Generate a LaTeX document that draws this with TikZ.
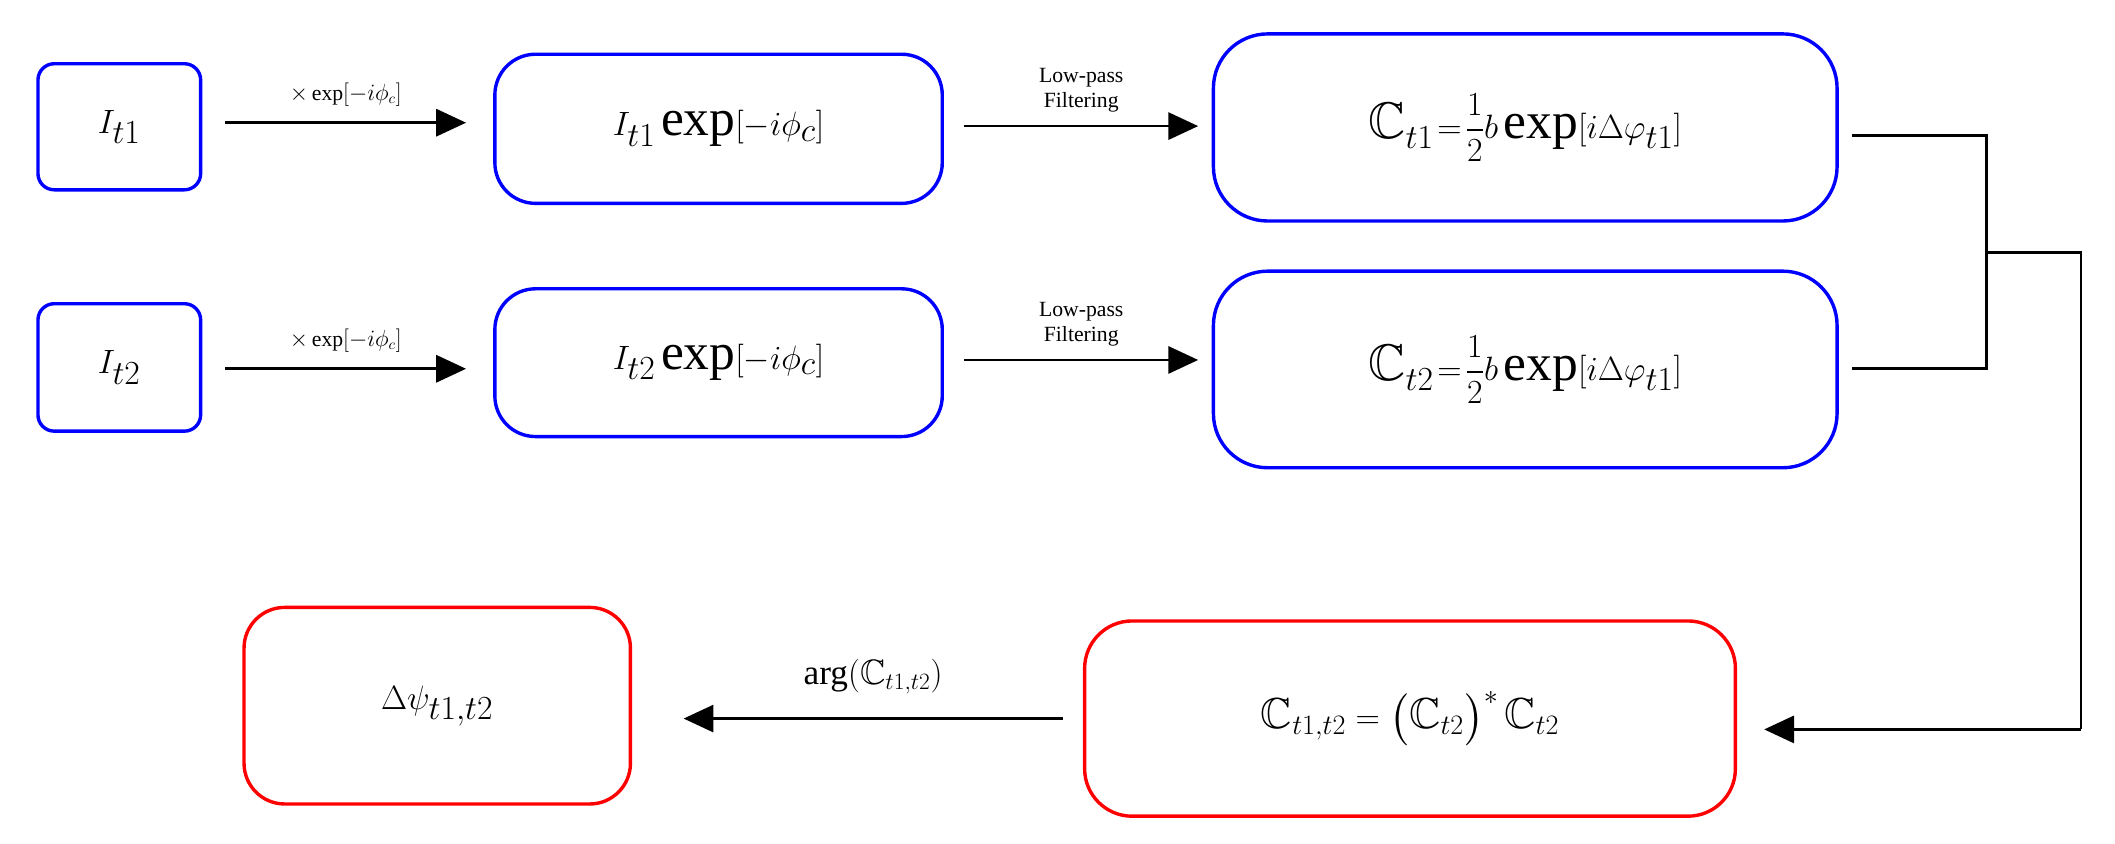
\documentclass[tikz,border=0pt]{standalone}
\usepackage{amsmath,amssymb}
\usepackage{fontspec}
\setmainfont{Liberation Serif}
\usetikzlibrary{arrows.meta}
\begin{document}
\begin{tikzpicture}[x=1pt,y=-1pt,
  bb/.style={draw=blue,line width=2.5pt,rounded corners=#1,inner sep=0pt},
  rb/.style={draw=red,line width=2.5pt,rounded corners=#1,inner sep=0pt},
  ar/.style={line width=2pt,-{Triangle[length=22pt,width=20pt]}},
  ln/.style={line width=2pt},
  sm/.style={font=\fontsize{16}{18}\selectfont,align=center}]
\useasboundingbox (0,0) rectangle (1560,622);
\node[bb=12pt,minimum width=120pt,minimum height=93pt] (a1) at (88,93.5) {\fontsize{44}{48}\selectfont$I_{t1}$};
\node[bb=12pt,minimum width=120pt,minimum height=94pt] (a2) at (88,271) {\fontsize{44}{48}\selectfont$I_{t2}$};
\node[bb=30pt,minimum width=330pt,minimum height=110pt] (b1) at (530,95) {\fontsize{38}{42}\selectfont$I_{t1}\exp\!\left[-i\phi_c\right]$};
\node[bb=30pt,minimum width=330pt,minimum height=109pt] (b2) at (530,267.5) {\fontsize{38}{42}\selectfont$I_{t2}\exp\!\left[-i\phi_c\right]$};
\node[bb=40pt,minimum width=460pt,minimum height=138pt] (c1) at (1125,94) {\fontsize{38}{42}\selectfont$\mathbb{C}_{t1}\!=\!\dfrac{1}{2}b\exp\!\left[i\Delta\varphi_{t1}\right]$};
\node[bb=40pt,minimum width=460pt,minimum height=145pt] (c2) at (1125,272.5) {\fontsize{38}{42}\selectfont$\mathbb{C}_{t2}\!=\!\dfrac{1}{2}b\exp\!\left[i\Delta\varphi_{t1}\right]$};
\node[rb=35pt,minimum width=480pt,minimum height=144pt] (d) at (1040,530) {\fontsize{32}{36}\selectfont$\mathbb{C}_{t1,t2}=\left(\mathbb{C}_{t2}\right)^{*}\mathbb{C}_{t2}$};
\node[rb=30pt,minimum width=285pt,minimum height=145pt] (e) at (322.5,520.5) {\fontsize{52}{56}\selectfont$\Delta\psi_{t1,t2}$};
\draw[ar] ([xshift=17pt,yshift=3pt]a1.east) coordinate (s1) -- ([xshift=-20pt]b1.west|-s1) node[midway,above=8pt,sm]{$\times\exp[-i\phi_c]$};
\draw[ar] ([xshift=17pt,yshift=-1pt]a2.east) coordinate (s2) -- ([xshift=-20pt]b2.west|-s2) node[midway,above=8pt,sm]{$\times\exp[-i\phi_c]$};
\draw[ar] ([xshift=15pt,yshift=2pt]b1.east) coordinate (s3) -- ([xshift=-10pt]c1.west|-s3) node[midway,above=6pt,sm]{Low-pass\\Filtering};
\draw[ar] ([xshift=15pt,yshift=2pt]b2.east) coordinate (s4) -- ([xshift=-10pt]c2.west|-s4) node[midway,above=6pt,sm]{Low-pass\\Filtering};
\coordinate (j1) at (1465,100);
\coordinate (j2) at (1465,272);
\coordinate (jm) at (1465,186);
\coordinate (k1) at (1535,186);
\coordinate (k2) at (1535,538);
\draw[ln] ([xshift=10pt]c1.east|-j1) -- (j1) -- (j2) -- ([xshift=10pt]c2.east|-j2);
\draw[ln] (jm) -- (k1) -- (k2);
\draw[ar] (k2) -- ([xshift=20pt]d.east|-k2);
\draw[ar] ([xshift=-15pt]d.west) -- ([xshift=38pt]e.east|-d.west) node[midway,above=14pt,font=\fontsize{26}{30}\selectfont]{arg$\left(\mathbb{C}_{t1,t2}\right)$};
\end{tikzpicture}
\end{document}
